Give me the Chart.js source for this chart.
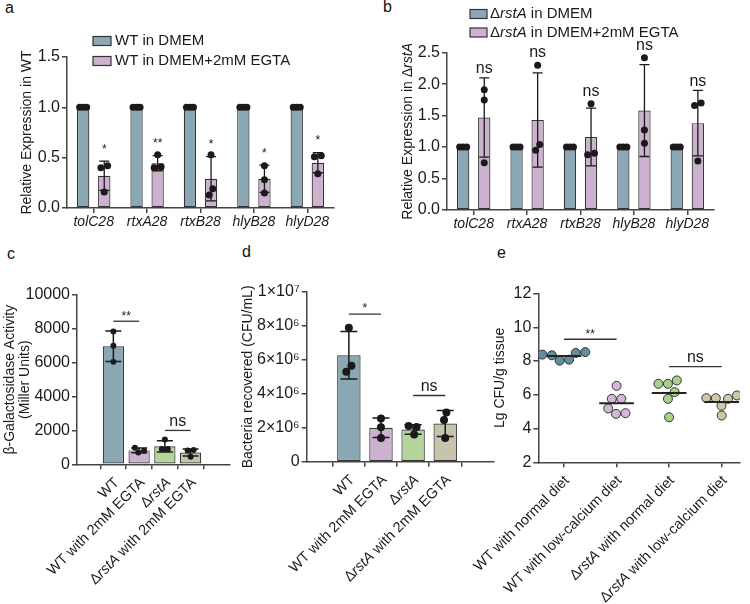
<!DOCTYPE html>
<html><head><meta charset="utf-8">
<script src="https://cdn.jsdelivr.net/npm/chart.js@4.4.1/dist/chart.umd.min.js"></script>
<style>
html,body{margin:0;padding:0;background:#fff;}
#wrap{position:relative;width:750px;height:604px;overflow:hidden;font-family:'Liberation Sans',Arial,sans-serif;}
canvas{position:absolute;}
.pl{position:absolute;font-size:16px;line-height:16px;color:#111;}
</style></head><body>
<div id="wrap">
<div class="pl" style="left:5px;top:0px">a</div>
<div class="pl" style="left:383px;top:-1px">b</div>
<div class="pl" style="left:7px;top:246px">c</div>
<div class="pl" style="left:242px;top:244px">d</div>
<div class="pl" style="left:497px;top:245px">e</div>
<canvas id="cA" width="375" height="245" style="left:0;top:0;width:375px;height:245px"></canvas>
<canvas id="cB" width="375" height="245" style="left:375px;top:0;width:375px;height:245px"></canvas>
<canvas id="cC" width="240" height="359" style="left:0;top:245px;width:240px;height:359px"></canvas>
<canvas id="cD" width="260" height="359" style="left:240px;top:245px;width:260px;height:359px"></canvas>
<canvas id="cE" width="320" height="359" style="left:430px;top:245px;width:320px;height:359px"></canvas>
</div>
<script>
// ---------------- DATA ----------------
const GENES = ['tolC28', 'rtxA28', 'rtxB28', 'hlyB28', 'hlyD28'];

// Panel a
const A_SERIES = ['WT in DMEM', 'WT in DMEM+2mM EGTA'];
const A_CTRL_MEAN = [1, 1, 1, 1, 1];
const A_CTRL_SD = [0, 0, 0, 0, 0];
const A_CTRL_PTS = [[1, 1, 1], [1, 1, 1], [1, 1, 1], [1, 1, 1], [1, 1, 1]];
const A_EGTA_MEAN = [0.32, 0.445, 0.29, 0.29, 0.45];
const A_EGTA_SD = [0.145, 0.075, 0.22, 0.135, 0.10];
const A_EGTA_PTS = [[0.42, 0.40, 0.16], [0.53, 0.41, 0.40], [0.53, 0.19, 0.13], [0.42, 0.28, 0.15], [0.52, 0.51, 0.34]];
const A_SIG = ['*', '**', '*', '*', '*'];

// Panel b
const B_SERIES = ['ΔrstA in DMEM', 'ΔrstA in DMEM+2mM EGTA'];
const B_CTRL_MEAN = [1, 1, 1, 1, 1];
const B_CTRL_SD = [0, 0, 0, 0, 0];
const B_CTRL_PTS = [[1, 1, 1], [1, 1, 1], [1, 1, 1], [1, 1, 1], [1, 1, 1]];
const B_EGTA_MEAN = [1.47, 1.43, 1.16, 1.58, 1.38];
const B_EGTA_SD = [0.63, 0.75, 0.46, 0.73, 0.52];
const B_EGTA_PTS = [[1.91, 1.75, 0.75], [2.30, 1.04, 0.95], [1.69, 0.90, 0.88], [2.42, 1.27, 1.06], [1.70, 1.66, 0.78]];
const B_SIG = ['ns', 'ns', 'ns', 'ns', 'ns'];

// Panel c
const C_GROUPS = ['WT', 'WT with 2mM EGTA', 'ΔrstA', 'ΔrstA with 2mM EGTA'];
const C_MEAN = [6970, 820, 1060, 700];
const C_SD = [900, 140, 330, 210];
const C_PTS = [[7850, 7000, 6050], [980, 690, 800], [1470, 900, 900], [840, 450, 820]];
const C_SIG = [{from: 0, to: 1, y: 8450, text: '**'}, {from: 2, to: 3, y: 2000, text: 'ns'}];

// Panel d
const D_GROUPS = ['WT', 'WT with 2mM EGTA', 'ΔrstA', 'ΔrstA with 2mM EGTA'];
const D_MEAN = [6.27e6, 2.0e6, 1.9e6, 2.25e6];
const D_SD = [1.4e6, 0.58e6, 0.28e6, 0.77e6];
const D_PTS = [[7.9e6, 5.66e6, 5.3e6], [2.55e6, 2.03e6, 1.4e6], [2.1e6, 2.05e6, 1.6e6], [2.9e6, 2.45e6, 1.4e6]];
const D_SIG = [{from: 0, to: 1, y: 8.7e6, text: '*'}, {from: 2, to: 3, y: 3.9e6, text: 'ns'}];

// Panel e
const E_GROUPS = ['WT with normal diet', 'WT with low-calcium diet', 'ΔrstA with normal diet', 'ΔrstA with low-calcium diet'];
const E_PTS = [
  [8.48, 8.34, 8.02, 8.08, 8.38, 8.53],
  [6.53, 5.76, 5.76, 5.19, 4.87, 4.91],
  [6.85, 6.65, 6.65, 6.16, 5.76, 4.67],
  [5.80, 5.76, 5.80, 5.96, 5.35, 4.77]
];
const E_MEAN = [8.30, 5.50, 6.10, 5.57];
const E_SIG = [{from: 0, to: 1, y: 9.29, text: '**'}, {from: 2, to: 3, y: 7.67, text: 'ns'}];

// ---------------- STYLE ----------------
const FAMILY = "'Liberation Sans', Arial, Helvetica, sans-serif";
Chart.defaults.font.family = FAMILY;
Chart.defaults.color = '#1e1e1e';
const INK = '#1a1a1a';
const AXIS = '#444444';
const TEAL = '#8aa8b4', LILAC = '#cdb2cf', GREEN = '#b4d49b', BEIGE = '#c7c4ab';
const E_COLORS = ['#5f8f9e', '#d4b6d8', '#acd08c', '#cdc8a8'];

// ---------------- HELPERS ----------------
function segs(str) {
  return str.split(/(rstA)/).filter(s => s.length).map(t => ({t, i: t === 'rstA'}));
}
function drawRich(ctx, text, size, x, y, rot, align, allItalic) {
  const parts = segs(text);
  ctx.save();
  ctx.translate(x, y);
  ctx.rotate(rot);
  ctx.textBaseline = 'middle';
  ctx.textAlign = 'left';
  const fonts = parts.map(p => ((p.i || allItalic) ? 'italic ' : '') + size + 'px ' + FAMILY);
  let total = 0;
  const widths = parts.map((p, k) => { ctx.font = fonts[k]; const w = ctx.measureText(p.t).width; total += w; return w; });
  let cx = align === 'right' ? -total : (align === 'center' ? -total / 2 : 0);
  parts.forEach((p, k) => { ctx.font = fonts[k]; ctx.fillText(p.t, cx, 0); cx += widths[k]; });
  ctx.restore();
}
// beeswarm offsets (pixels) for a set of pixel y values
function swarm(py, d, maxOff) {
  const n = py.length;
  const order = [...Array(n).keys()].sort((a, b) => py[b] - py[a]);
  const off = new Array(n).fill(0), placed = [];
  for (const i of order) {
    const y = py[i], forb = [];
    for (const p of placed) {
      const dy = Math.abs(p.y - y);
      if (dy < d) { const h = Math.sqrt(d * d - dy * dy); forb.push([p.x - h, p.x + h]); }
    }
    const cands = [0];
    forb.forEach(f => cands.push(f[0], f[1]));
    cands.sort((a, b) => (Math.abs(a) - Math.abs(b)) || (b - a));
    let x = 0;
    for (const c of cands) { if (forb.every(f => c <= f[0] + 1e-6 || c >= f[1] - 1e-6)) { x = c; break; } }
    placed.push({x, y});
    off[i] = x;
  }
  const sorted = [...Array(n).keys()].sort((a, b) => py[a] - py[b]);
  let cl = [sorted[0]];
  const flush = () => { const m = cl.reduce((s, k) => s + off[k], 0) / cl.length; cl.forEach(k => off[k] -= m); };
  for (let k = 1; k < n; k++) {
    if (py[sorted[k]] - py[sorted[k - 1]] < d) cl.push(sorted[k]); else { flush(); cl = [sorted[k]]; }
  }
  flush();
  return off.map(o => Math.max(-maxOff, Math.min(maxOff, o)));
}

function barExtras(sets, cfg) {
  return {
    id: 'barExtras',
    afterDatasetsDraw(chart) {
      const ctx = chart.ctx, ys = chart.scales.y;
      sets.forEach((s, d) => {
        if (!s) return;
        const meta = chart.getDatasetMeta(d);
        meta.data.forEach((bar, i) => {
          const raw = chart.data.datasets[d].data[i];
          const mv = (typeof raw === 'object') ? raw.y : raw;
          const sd = s.sd[i], x = bar.x;
          ctx.save();
          ctx.strokeStyle = INK; ctx.lineWidth = cfg.errW;
          const yt = ys.getPixelForValue(mv + sd), yb = ys.getPixelForValue(mv - sd);
          if (sd > 0) {
            ctx.beginPath();
            ctx.moveTo(x, yt); ctx.lineTo(x, yb);
            ctx.moveTo(x - cfg.cap, yt); ctx.lineTo(x + cfg.cap, yt);
            ctx.moveTo(x - cfg.cap, yb); ctx.lineTo(x + cfg.cap, yb);
            ctx.stroke();
          }
          const py = s.pts[i].map(v => ys.getPixelForValue(v));
          const off = swarm(py, cfg.r * 2, cfg.maxOff);
          ctx.fillStyle = INK;
          py.forEach((y, k) => { ctx.beginPath(); ctx.arc(x + off[k], y, cfg.r, 0, Math.PI * 2); ctx.fill(); });
          if (s.sig) {
            let top = yt;
            if (cfg.sigUseDots) top = Math.min(yt, Math.min(...py) - cfg.r);
            const star = s.sig[i].includes('*');
            ctx.font = (star ? cfg.starSize : cfg.nsSize) + 'px ' + FAMILY;
            ctx.textAlign = 'center'; ctx.textBaseline = 'middle';
            ctx.fillText(s.sig[i], x, top - (star ? cfg.starOff : cfg.nsOff));
          }
          ctx.restore();
        });
      });
    }
  };
}

function legendPlug(p) {
  return {
    id: 'lgd',
    afterDraw(chart) {
      const ctx = chart.ctx;
      chart.data.datasets.forEach((ds, k) => {
        const cy = p.y0 + k * p.dy;
        ctx.save();
        ctx.fillStyle = ds.backgroundColor; ctx.strokeStyle = '#333'; ctx.lineWidth = 1.2;
        ctx.fillRect(p.x, cy - p.bh / 2, p.bw, p.bh);
        ctx.strokeRect(p.x, cy - p.bh / 2, p.bw, p.bh);
        ctx.fillStyle = INK;
        drawRich(ctx, ds.label, p.size, p.tx, cy, 0, 'left');
        ctx.restore();
      });
    }
  };
}

function pairSig(list) {
  return {
    id: 'pairSig',
    afterDatasetsDraw(chart) {
      const ctx = chart.ctx, xs = chart.scales.x, ys = chart.scales.y;
      list.forEach(s => {
        const x1 = xs.getPixelForValue(s.from), x2 = xs.getPixelForValue(s.to), y = ys.getPixelForValue(s.y);
        ctx.save();
        ctx.strokeStyle = '#333'; ctx.lineWidth = 1.3;
        ctx.beginPath(); ctx.moveTo(x1, y); ctx.lineTo(x2, y); ctx.stroke();
        const star = s.text.includes('*');
        ctx.fillStyle = INK;
        ctx.font = (star ? 12 : 16) + 'px ' + FAMILY;
        ctx.textAlign = 'center'; ctx.textBaseline = 'middle';
        ctx.fillText(s.text, (x1 + x2) / 2, y - (star ? 5 : 9));
        ctx.restore();
      });
    }
  };
}

function rotLabels(labels, size, dx, dy) {
  return {
    id: 'rotLabels',
    afterDraw(chart) {
      const ctx = chart.ctx, xs = chart.scales.x, yb = chart.chartArea.bottom;
      labels.forEach((t, i) => {
        ctx.save(); ctx.fillStyle = INK;
        drawRich(ctx, t, size, xs.getPixelForValue(i) + dx, yb + dy, -Math.PI / 4, 'right');
        ctx.restore();
      });
    }
  };
}

function richYTitle(text, size, x) {
  return {
    id: 'richYTitle',
    afterDraw(chart) {
      const ctx = chart.ctx, ca = chart.chartArea;
      ctx.save(); ctx.fillStyle = INK;
      drawRich(ctx, text, size, x, (ca.top + ca.bottom) / 2, -Math.PI / 2, 'center');
      ctx.restore();
    }
  };
}

function swarmScatter(d) {
  return {
    id: 'swarmScatter',
    afterDatasetsUpdate(chart) {
      chart.data.datasets.forEach((ds, k) => {
        if (ds.type !== 'scatter') return;
        const els = chart.getDatasetMeta(k).data;
        const off = swarm(els.map(e => e.y), d, 1e9);
        els.forEach((e, j) => { e.x += off[j]; });
      });
    }
  };
}

function yAxis(min, max, step, width, fmt, size, title) {
  return {
    min, max,
    ticks: {stepSize: step, font: {size}, color: INK, padding: 2, callback: fmt},
    grid: {drawOnChartArea: false, drawTicks: true, tickLength: 5, color: AXIS, lineWidth: 1.5},
    border: {display: true, color: AXIS, width: 1.5},
    title: title || {display: false},
    afterFit: s => { s.width = width; }
  };
}
function catX(height) {
  return {
    type: 'category', offset: true,
    grid: {offset: false, drawOnChartArea: false, drawTicks: true, tickLength: 5, color: AXIS, lineWidth: 1.5},
    border: {display: true, color: AXIS, width: 1.5},
    ticks: {font: {size: 14, style: 'italic'}, color: INK, padding: 1, maxRotation: 0, minRotation: 0, autoSkip: false},
    afterFit: s => { s.height = height; }
  };
}
function linX(n, min, max, height) {
  return {
    type: 'linear', min, max,
    afterBuildTicks: s => { s.ticks = [...Array(n).keys()].map(v => ({value: v})); },
    grid: {drawOnChartArea: false, drawTicks: true, tickLength: 5, color: AXIS, lineWidth: 1.5},
    border: {display: true, color: AXIS, width: 1.5},
    ticks: {callback: () => '', display: true},
    afterFit: s => { s.height = height; }
  };
}
const base = {responsive: false, maintainAspectRatio: false, animation: false, devicePixelRatio: 1, events: []};
const barStyle = {borderColor: '#333', borderWidth: 1.2, borderSkipped: false};

// ---------------- PANEL A ----------------
new Chart(document.getElementById('cA'), {
  type: 'bar',
  data: {labels: GENES, datasets: [
    {label: A_SERIES[0], data: A_CTRL_MEAN, backgroundColor: TEAL, ...barStyle, categoryPercentage: 0.79, barPercentage: 0.585},
    {label: A_SERIES[1], data: A_EGTA_MEAN, backgroundColor: LILAC, ...barStyle, categoryPercentage: 0.79, barPercentage: 0.585}
  ]},
  options: {...base,
    layout: {padding: {left: 0, top: 57, right: 41, bottom: 7}},
    plugins: {legend: {display: false}, tooltip: {enabled: false}},
    scales: {
      x: catX(30),
      y: yAxis(0, 1.5, 0.5, 67, v => v.toFixed(1), 16,
        {display: true, text: 'Relative Expression in WT', font: {size: 14}, color: INK, padding: {top: 18.6, bottom: 0}})
    }
  },
  plugins: [
    barExtras([{sd: A_CTRL_SD, pts: A_CTRL_PTS}, {sd: A_EGTA_SD, pts: A_EGTA_PTS, sig: A_SIG}],
      {errW: 1.3, cap: 5, r: 3.5, maxOff: 3.5, starSize: 12, nsSize: 15, starOff: 12, nsOff: 9, sigUseDots: false}),
    legendPlug({x: 93, bw: 18, bh: 9, y0: 41, dy: 20, tx: 115, size: 15})
  ]
});

// ---------------- PANEL B ----------------
new Chart(document.getElementById('cB'), {
  type: 'bar',
  data: {labels: GENES, datasets: [
    {label: B_SERIES[0], data: B_CTRL_MEAN, backgroundColor: TEAL, ...barStyle, categoryPercentage: 0.79, barPercentage: 0.585},
    {label: B_SERIES[1], data: B_EGTA_MEAN, backgroundColor: LILAC, ...barStyle, categoryPercentage: 0.79, barPercentage: 0.585}
  ]},
  options: {...base,
    layout: {padding: {left: 0, top: 52.7, right: 36, bottom: 5}},
    plugins: {legend: {display: false}, tooltip: {enabled: false}},
    scales: {
      x: catX(30),
      y: yAxis(0, 2.5, 0.5, 72, v => v.toFixed(1), 16)
    }
  },
  plugins: [
    barExtras([{sd: B_CTRL_SD, pts: B_CTRL_PTS}, {sd: B_EGTA_SD, pts: B_EGTA_PTS, sig: B_SIG}],
      {errW: 1.3, cap: 5, r: 3.5, maxOff: 3.5, starSize: 12, nsSize: 16, starOff: 12, nsOff: 9, sigUseDots: true}),
    legendPlug({x: 95, bw: 17, bh: 9, y0: 14, dy: 18.5, tx: 115, size: 15}),
    richYTitle('Relative Expression in ΔrstA', 14, 33)
  ]
});

// ---------------- PANEL C ----------------
new Chart(document.getElementById('cC'), {
  type: 'bar',
  data: {datasets: [{
    data: C_MEAN.map((m, i) => ({x: i, y: m})),
    backgroundColor: [TEAL, LILAC, GREEN, BEIGE], ...barStyle, categoryPercentage: 1, barPercentage: 0.825
  }]},
  options: {...base,
    layout: {padding: {left: 0, top: 50, right: 10, bottom: 39.7}},
    plugins: {legend: {display: false}, tooltip: {enabled: false}},
    scales: {
      x: linX(C_GROUPS.length, -0.67, 3.787, 100),
      y: yAxis(0, 10000, 2000, 77, v => String(v), 16,
        {display: true, text: ['β-Galactosidase Activity', '(Miller Units)'], font: {size: 14, lineHeight: 1.1}, color: INK, padding: {top: 2.3, bottom: 0}})
    }
  },
  plugins: [
    barExtras([{sd: C_SD, pts: C_PTS}], {errW: 1.5, cap: 8, r: 3, maxOff: 8}),
    pairSig(C_SIG),
    rotLabels(C_GROUPS, 14.5, 3.5, 16)
  ]
});

// ---------------- PANEL D ----------------
function sciTick(v) {
  if (v === 0) return '0';
  if (v >= 1e7) return (v / 1e7) + '×10⁷';
  return (v / 1e6) + '×10⁶';
}
new Chart(document.getElementById('cD'), {
  type: 'bar',
  data: {datasets: [{
    data: D_MEAN.map((m, i) => ({x: i, y: m})),
    backgroundColor: [TEAL, LILAC, GREEN, BEIGE], ...barStyle, categoryPercentage: 1, barPercentage: 0.73
  }]},
  options: {...base,
    layout: {padding: {left: 0, top: 47, right: 6, bottom: 42.3}},
    plugins: {legend: {display: false}, tooltip: {enabled: false}},
    scales: {
      x: linX(D_GROUPS.length, -0.584, 3.79, 100),
      y: yAxis(0, 1e7, 2e6, 66.7, sciTick, 16,
        {display: true, text: 'Bacteria recovered (CFU/mL)', font: {size: 14}, color: INK, padding: {top: 0, bottom: 0}})
    }
  },
  plugins: [
    barExtras([{sd: D_SD, pts: D_PTS}], {errW: 1.5, cap: 8.5, r: 4, maxOff: 8}),
    pairSig(D_SIG),
    rotLabels(D_GROUPS, 14.5, 3.5, 16)
  ]
});

// ---------------- PANEL E ----------------
new Chart(document.getElementById('cE'), {
  type: 'scatter',
  data: {datasets: [
    ...E_MEAN.map((m, i) => ({type: 'line', data: [{x: i - 0.33, y: m}, {x: i + 0.33, y: m}],
      borderColor: '#222', borderWidth: 2, pointRadius: 0, fill: false, order: 0})),
    ...E_PTS.map((pts, i) => ({type: 'scatter', data: pts.map(v => ({x: i, y: v})),
      backgroundColor: E_COLORS[i], borderColor: '#333', borderWidth: 1, pointRadius: 4.5, order: 1}))
  ]},
  options: {...base,
    layout: {padding: {left: 0, top: 48.5, right: 10, bottom: 41.7}},
    plugins: {legend: {display: false}, tooltip: {enabled: false}},
    scales: {
      x: linX(E_GROUPS.length, -0.489, 3.348, 100),
      y: yAxis(2, 12, 2, 108.3, v => String(v), 16,
        {display: true, text: 'Lg CFU/g tissue', font: {size: 14}, color: INK, padding: {top: 61.6, bottom: 0}})
    }
  },
  plugins: [
    swarmScatter(9.5),
    pairSig(E_SIG),
    rotLabels(E_GROUPS, 14.5, 3, 16)
  ]
});
</script>
</body></html>
